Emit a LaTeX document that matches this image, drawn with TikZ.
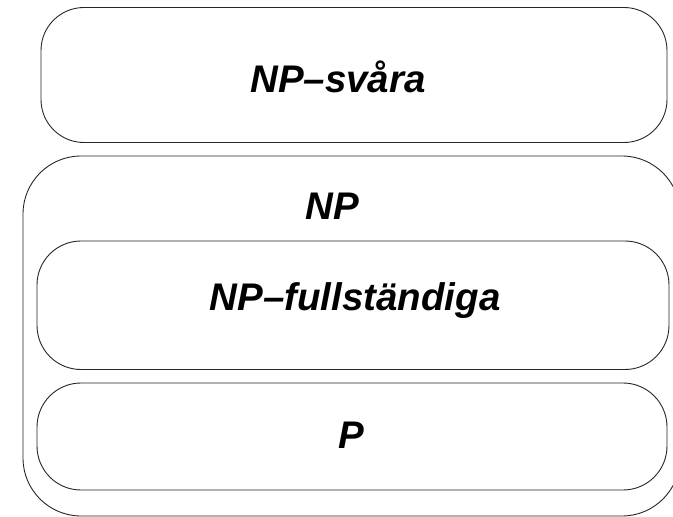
\documentclass[tikz,border=0pt]{standalone}
\usepackage{fontspec}
\setmainfont{Liberation Sans}
\begin{document}
\begin{tikzpicture}[x=1pt,y=-1pt,
  setbox/.style={draw=black!85, line width=0.9pt},
  lbl/.style={font=\fontsize{38.5}{42}\selectfont\bfseries\itshape, anchor=base, inner sep=0pt}]
\useasboundingbox (0,0) rectangle (673,517);
\clip (0,0) rectangle (673,517);
% boxes
\draw[setbox, rounded corners=43pt] (41,7.5) rectangle (667,142.5);
\draw[setbox, rounded corners=58pt] (23,156) rectangle (680,516);
\draw[setbox, rounded corners=44pt] (37,241) rectangle (669,369.5);
\draw[setbox, rounded corners=44pt] (37,383) rectangle (667,490);
% labels
\node[lbl] (hard) at (338,92) {NP–svåra};
\node[lbl] (np) at (332,219) {NP};
\node[lbl] (npcomplete) at (355,310) {NP–fullständiga};
\node[lbl] (p) at (351,448) {P};
\end{tikzpicture}
\end{document}
